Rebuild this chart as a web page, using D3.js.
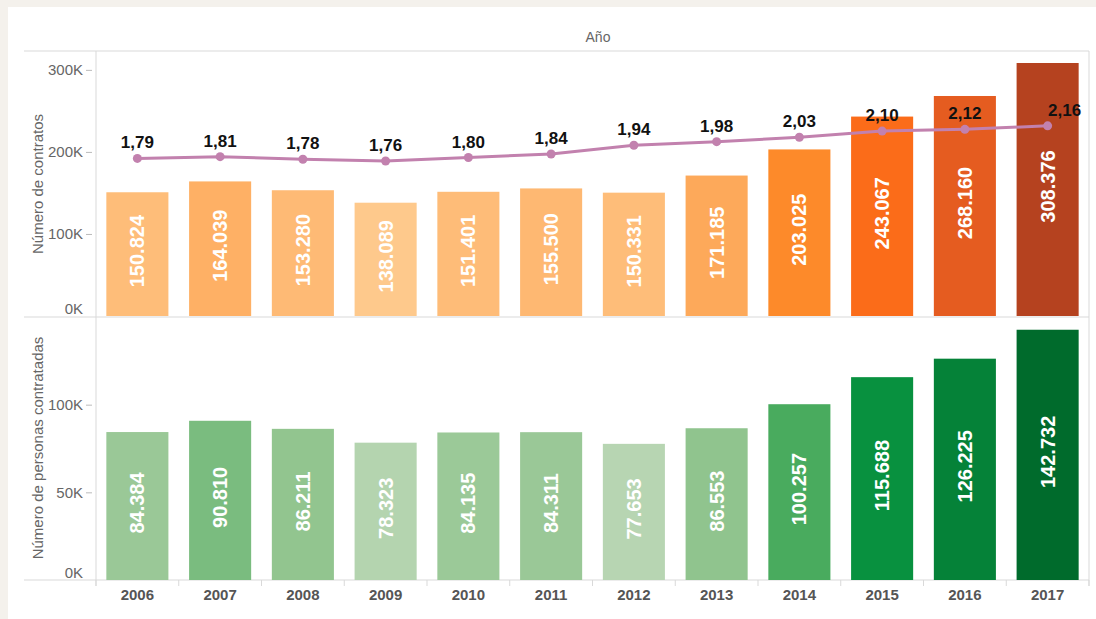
<!DOCTYPE html>
<html>
<head>
<meta charset="utf-8">
<script src="https://d3js.org/d3.v7.min.js"></script>
<style>
  body { margin: 0; background: #f4f1ec; }
  svg { display: block; font-family: "Liberation Sans", Arial, sans-serif; }
</style>
</head>
<body>
<svg width="1096" height="619"></svg>
<script>
// data
const years = ['2006','2007','2008','2009','2010','2011','2012','2013','2014','2015','2016','2017'];
const contratos = [150824, 164039, 153280, 138089, 151401, 155500, 150331, 171185, 203025, 243067, 268160, 308376];
const personas = [84384, 90810, 86211, 78323, 84135, 84311, 77653, 86553, 100257, 115688, 126225, 142732];
const ratio = [1.79, 1.81, 1.78, 1.76, 1.80, 1.84, 1.94, 1.98, 2.03, 2.10, 2.12, 2.16];
const ticksTop = [0, 100000, 200000, 300000];
const ticksBottom = [0, 50000, 100000];

const svg = d3.select('svg');

// white card
svg.append('rect').attr('x', 8).attr('y', 7).attr('width', 1088).attr('height', 612).attr('fill', '#fff');

const pLeft = 96, pRight = 1089, pTop = 51, pMid = 317, pBottom = 580;

const xs = d3.scaleBand().domain(years).range([pLeft, pRight]).paddingInner(0.25).paddingOuter(0.125);
const yTop = d3.scaleLinear().domain([0, 323000]).range([316, pTop]);
const yLine = d3.scaleLinear().domain([0, 3.01]).range([316, pTop]);
const yBot = d3.scaleLinear().domain([0, 150000]).range([pBottom, pMid]);

const orange = d3.scaleLinear()
  .domain([138000, 203000, 243000, 268000, 308000])
  .range(['#fec98c', '#fd8a2a', '#fb6c19', '#e55c20', '#b5421f']);
const green = d3.scaleLinear()
  .domain([77600, 86000, 100000, 115700, 142700])
  .range(['#b7d5b2', '#93c590', '#4aab5f', '#08913f', '#006b2c']);

// frame lines
const grey = '#d9d9d9';
svg.append('line').attr('x1', 24).attr('x2', pRight).attr('y1', pTop).attr('y2', pTop).attr('stroke', grey);
svg.append('line').attr('x1', 24).attr('x2', pRight).attr('y1', pMid).attr('y2', pMid).attr('stroke', grey);
svg.append('line').attr('x1', 24).attr('x2', pRight).attr('y1', pBottom).attr('y2', pBottom).attr('stroke', grey);
svg.append('line').attr('x1', pLeft).attr('x2', pLeft).attr('y1', pTop).attr('y2', pBottom + 6).attr('stroke', grey);
svg.append('line').attr('x1', pRight).attr('x2', pRight).attr('y1', pTop).attr('y2', pBottom + 6).attr('stroke', grey);

// header
svg.append('text').attr('x', 598).attr('y', 42).attr('text-anchor', 'middle')
  .attr('fill', '#666').style('font-size', '14px').text('Año');

// y axes
function yAxis(scale, ticks, lift) {
  const g = svg.append('g').attr('transform', `translate(${pLeft - 4},0)`)
    .call(d3.axisLeft(scale).tickValues(ticks).tickSize(6).tickPadding(3).tickFormat(d => (d / 1000) + 'K'));
  g.select('.domain').remove();
  g.selectAll('line').attr('stroke', '#bbb');
  g.selectAll('text').attr('fill', '#666').style('font-size', '15px').style('font-family', '"Liberation Sans", Arial, sans-serif');
  g.selectAll('.tick').filter(d => d === 0).select('text').attr('dy', lift);
  g.selectAll('.tick').filter(d => d === 0).select('line').remove();
}
yAxis(yTop, ticksTop, '-0.2em');
yAxis(yBot, ticksBottom, '-0.15em');

svg.append('text').attr('transform', 'translate(43,184) rotate(-90)').attr('text-anchor', 'middle')
  .attr('fill', '#666').style('font-size', '15px').text('Número de contratos');
svg.append('text').attr('transform', 'translate(43,448) rotate(-90)').attr('text-anchor', 'middle')
  .attr('fill', '#666').style('font-size', '15px').text('Número de personas contratadas');

const fmt = v => d3.format(',')(v).replace(/,/g, '.');

// top bars
svg.append('g').selectAll('rect').data(contratos).join('rect')
  .attr('x', (d, i) => xs(years[i])).attr('y', d => yTop(d))
  .attr('width', xs.bandwidth()).attr('height', d => yTop(0) - yTop(d))
  .attr('fill', d => orange(d));
svg.append('g').selectAll('text').data(contratos).join('text')
  .attr('transform', (d, i) => `translate(${xs(years[i]) + xs.bandwidth() / 2 + 7},${(yTop(d) + yTop(0)) / 2 - 3}) rotate(-90)`)
  .attr('text-anchor', 'middle').attr('fill', '#fff').style('font-size', '20px').style('font-weight', 'bold')
  .text(d => fmt(d));

// bottom bars
svg.append('g').selectAll('rect').data(personas).join('rect')
  .attr('x', (d, i) => xs(years[i])).attr('y', d => yBot(d))
  .attr('width', xs.bandwidth()).attr('height', d => yBot(0) - yBot(d))
  .attr('fill', d => green(d));
svg.append('g').selectAll('text').data(personas).join('text')
  .attr('transform', (d, i) => `translate(${xs(years[i]) + xs.bandwidth() / 2 + 7},${(yBot(d) + yBot(0)) / 2 - 3}) rotate(-90)`)
  .attr('text-anchor', 'middle').attr('fill', '#fff').style('font-size', '20px').style('font-weight', 'bold')
  .text(d => fmt(d));

// ratio line
const cx = (d, i) => xs(years[i]) + xs.bandwidth() / 2;
svg.append('path').datum(ratio)
  .attr('d', d3.line().x(cx).y(d => yLine(d)))
  .attr('fill', 'none').attr('stroke', '#c281ae').attr('stroke-width', 3);
svg.append('g').selectAll('circle').data(ratio).join('circle')
  .attr('cx', cx).attr('cy', d => yLine(d)).attr('r', 4.5).attr('fill', '#c281ae');
svg.append('g').selectAll('text').data(ratio).join('text')
  .attr('x', (d, i) => cx(d, i) + (i === ratio.length - 1 ? 17 : 0)).attr('y', d => yLine(d) - 10)
  .attr('text-anchor', 'middle').attr('fill', '#111').style('font-size', '17px').style('font-weight', 'bold')
  .text(d => d3.format('.2f')(d).replace('.', ','));

// x axis
svg.append('g').selectAll('line').data(years.concat(['end'])).join('line')
  .attr('x1', (d, i) => pLeft + i * xs.step()).attr('x2', (d, i) => pLeft + i * xs.step())
  .attr('y1', pBottom).attr('y2', pBottom + 6).attr('stroke', grey);
svg.append('g').selectAll('text').data(years).join('text')
  .attr('x', d => xs(d) + xs.bandwidth() / 2).attr('y', 600)
  .attr('text-anchor', 'middle').attr('fill', '#555').style('font-size', '15px').style('font-weight', 'bold')
  .text(d => d);
</script>
</body>
</html>
